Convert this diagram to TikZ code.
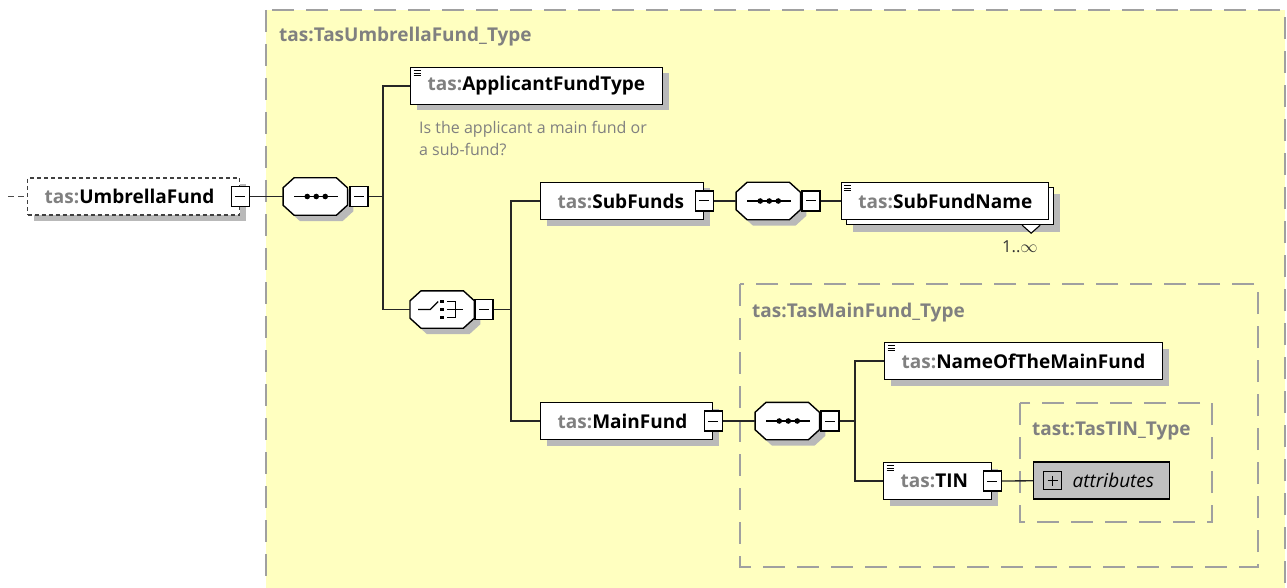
\documentclass[tikz,border=0pt]{standalone}
\usepackage{fontspec}
\setmainfont{Open Sans}
\usetikzlibrary{positioning,shadows}

\definecolor{groupfill}{RGB}{255,255,192}
\definecolor{groupline}{RGB}{160,160,160}
\definecolor{prefixgray}{RGB}{128,128,128}
\definecolor{shadowgray}{RGB}{185,185,185}
\definecolor{attrgray}{RGB}{192,192,192}

\newcommand{\tas}[1]{{\color{prefixgray}tas:}#1}
% octagon outline of a compositor node
\newcommand{\octpath}[1]{([xshift=11pt]#1.north west) -- ([xshift=-11pt]#1.north east) -- ([yshift=-10pt]#1.north east)
	-- ([yshift=10pt]#1.south east) -- ([xshift=-11pt]#1.south east) -- ([xshift=11pt]#1.south west)
	-- ([yshift=10pt]#1.south west) -- ([yshift=-10pt]#1.north west) -- cycle}
\newcommand{\compframe}[1]{%
	\fill[shadowgray,transform canvas={xshift=6pt,yshift=-6pt}] \octpath{#1};
	\filldraw[fill=white,line width=1.4pt] \octpath{#1};}

\begin{document}
\begin{tikzpicture}[x=1pt,y=-1pt,
	wire/.style={line width=1.3pt,draw=black!85},
	groupbox/.style={fill=groupfill,draw=groupline,line width=1.8pt,dash pattern=on 22pt off 12pt},
	grouplabel/.style={anchor=base west,inner sep=0pt,text=prefixgray,font=\fontsize{19}{22}\selectfont\bfseries},
	shadowed/.style={drop shadow={shadow xshift=6pt,shadow yshift=-6pt,fill=shadowgray,opacity=1}},
	elem/.style={draw,line width=1.4pt,fill=white,anchor=west,minimum height=37pt,inner xsep=17pt,inner ysep=0pt,align=left,font=\fontsize{19}{22}\selectfont\bfseries,shadowed},
	simple/.style={path picture={\draw[line width=0.8pt] \foreach \k in {3,5.5,8} {([shift={(3pt,-\k pt)}]path picture bounding box.north west) -- ++(7pt,0pt)};}},
	compositor/.style={minimum width=64pt,minimum height=37pt,anchor=west,inner sep=0pt},
	pmbox/.style={draw,line width=1.3pt,fill=white,minimum width=18pt,minimum height=20pt,inner sep=0pt,path picture={\draw[line width=1pt] ([xshift=-5pt]path picture bounding box.center) -- ([xshift=5pt]path picture bounding box.center);}},
	doc/.style={anchor=north west,inner sep=0pt,align=left,text=prefixgray,font=\fontsize{16}{22}\selectfont}]

	\path[fill=white,use as bounding box] (0,0) rectangle (1287,588);

	% type boxes
	\draw[groupbox] (266,10) rectangle (1285,620);
	\draw[groupbox] (740,284) rectangle (1258,567);
	\draw[groupbox] (1020,403) rectangle (1212,522);
	\node[grouplabel] (umbtype)  at (279,42)   {tas:TasUmbrellaFund\_Type};
	\node[grouplabel] (maintype) at (752,317)  {tas:TasMainFund\_Type};
	\node[grouplabel] (tintype)  at (1032,435) {tast:TasTIN\_Type};

	% umbrella fund
	\node[elem,draw=black!75,dash pattern=on 4pt off 3pt,text width=178pt] (umb) at (27,196.5) {\tas{UmbrellaFund}};
	\node[pmbox] (umbpm) at (umb.east) {};
	\node[compositor,right=33pt of umbpm] (seq1) {};
	\compframe{seq1}
	\node[pmbox,right=2pt of seq1] (seq1pm) {};

	\node[elem,simple,text width=218pt] (aft) at (410,86) {\tas{ApplicantFundType}};
	\node[doc] (aftdoc) at (419,121) {Is the applicant a main fund or\\a sub-fund?};

	\node[compositor] (choice) at (410,309.5) {};
	\compframe{choice}
	\node[pmbox,right=0pt of choice] (choicepm) {};

	% sub funds
	\node[elem,text width=129pt] (subfunds) at (540,201) {\tas{SubFunds}};
	\node[pmbox] (subfundspm) at (subfunds.east) {};
	\node[compositor,right=22pt of subfundspm] (seq2) {};
	\compframe{seq2}
	\node[pmbox,right=1pt of seq2] (seq2pm) {};
	\node[shadowed/.style={},elem,simple,text width=173pt,
		drop shadow={shadow xshift=12pt,shadow yshift=-12pt,fill=shadowgray,opacity=1},
		copy shadow={shadow xshift=5pt,shadow yshift=-5pt},right=20pt of seq2pm] (sfname) {\tas{SubFundName}};
	\draw[line width=1.1pt,fill=white] ([shift={(-27pt,-5pt)}]sfname.south east) -- ++(9pt,-8pt) -- ++(9pt,8pt);
	\node[anchor=base west,inner sep=0pt,font=\fontsize{16.5}{18}\selectfont,text=black!80] (sfmult) at (1002,252) {1..\(\infty\)};

	% main fund
	\node[elem,text width=138pt] (mainfund) at (540,421) {\tas{MainFund}};
	\node[pmbox] (mainfundpm) at (mainfund.east) {};
	\node[compositor,right=32pt of mainfundpm] (seq3) {};
	\compframe{seq3}
	\node[pmbox,right=1pt of seq3] (seq3pm) {};
	\node[elem,simple,text width=244pt] (nomf) at (884,361) {\tas{NameOfTheMainFund}};
	\node[elem,simple,text width=74pt] (tin) at (883,481) {\tas{TIN}};
	\node[pmbox] (tinpm) at (tin.east) {};
	\node[shadowed/.style={},elem,fill=attrgray,text width=102pt,font=\fontsize{19}{22}\selectfont\itshape] (attr) at (1033,480.5) {\hspace*{22pt}\mbox{attributes}};
	\node[draw,line width=1.2pt,minimum width=18pt,minimum height=18pt,inner sep=0pt,right=10pt of attr.west] (attrpm) {};
	\draw[line width=1pt] ([xshift=-5pt]attrpm.center) -- ([xshift=5pt]attrpm.center) ([yshift=-5pt]attrpm.center) -- ([yshift=5pt]attrpm.center);

	% compositor symbols
	\foreach \c in {seq1,seq2,seq3} {
		\draw[line width=1.2pt] ([xshift=-21pt]\c.center) -- ([xshift=23pt]\c.center);
		\foreach \d in {-8,1,10} \fill ([xshift=\d pt]\c.center) circle (2.8pt);
	}
	\draw[line width=1.2pt] ([xshift=-24pt]choice.center) -- ++(12pt,0pt) -- ++(8pt,8pt);
	\foreach \k in {-8,0,8} \fill ([yshift=\k pt]choice.center) +(-1.8pt,-1.8pt) rectangle +(1.8pt,1.8pt);
	\draw[line width=1.2pt] ([shift={(5pt,8pt)}]choice.center) -- ++(8pt,0pt) -- ++(0pt,-16pt) -- ++(-8pt,0pt)
		([xshift=5pt]choice.center) -- ++(16pt,0pt);

	% connectors
	\coordinate (umbin) at (8,196.5);
	\coordinate (j1) at (383,196.5);
	\coordinate (j2) at (511,309.5);
	\coordinate (j3) at (855,421);
	\draw[wire,draw=black!70,dash pattern=on 6pt off 4pt] (umbin) -- (umb.west);
	\draw[wire] (umbpm) -- (seq1);
	\draw[wire] (seq1pm) -- (j1);
	\draw[wire] (aft.west) -| (j1) |- (choice.west);
	\draw[wire] (choicepm) -- (j2);
	\draw[wire] (subfunds.west) -| (j2) |- (mainfund.west);
	\draw[wire] (subfundspm) -- (seq2);
	\draw[wire] (seq2pm) -- (sfname);
	\draw[wire] (mainfundpm) -- (seq3);
	\draw[wire] (seq3pm) -- (j3);
	\draw[wire] (nomf.west) -| (j3) |- (tin.west);
	\draw[wire] (tinpm) -- (attr);
\end{tikzpicture}
\end{document}
